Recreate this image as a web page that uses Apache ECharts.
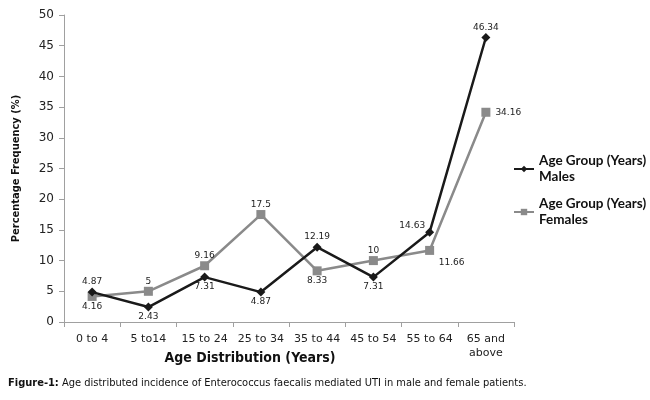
<!DOCTYPE html>
<html>
<head>
<meta charset="utf-8">
<script src="https://cdn.jsdelivr.net/npm/echarts@6/dist/echarts.min.js"></script>
<style>
  html, body { margin: 0; padding: 0; background: #fff; }
  #main { width: 650px; height: 400px; }
</style>
</head>
<body>
<div id="main"></div>
<script>
// chart data
var categories = ['0 to 4', '5 to14', '15 to 24', '25 to 34', '35 to 44', '45 to 54', '55 to 64', '65 and\nabove'];
var males = [4.87, 2.43, 7.31, 4.87, 12.19, 7.31, 14.63, 46.34];
var females = [4.16, 5, 9.16, 17.5, 8.33, 10, 11.66, 34.16];
var yTicks = [0, 5, 10, 15, 20, 25, 30, 35, 40, 45, 50];

// where each value label sits
var malePos = ['top', 'bottom', 'bottom', 'bottom', 'top', 'bottom', 'left', 'top'];
var femalePos = ['bottom', 'top', 'top', 'top', 'bottom', 'top', 'bottom', 'right'];

var tickFont = 'DejaVu Sans';
var narrowFont = "'DejaVu Sans Condensed', 'Liberation Sans', sans-serif";

function withLabels(values, pos, offsets) {
  return values.map(function (v, i) {
    var lab = { position: pos[i] };
    if (offsets && offsets[i]) lab.offset = offsets[i];
    return { value: v, label: lab };
  });
}

var chart = echarts.init(document.getElementById('main'));

var option = {
  animation: false,
  grid: { left: 64, right: 136, top: 15, bottom: 78 },
  title: {
    text: '{b|Figure-1:} Age distributed incidence of Enterococcus faecalis mediated UTI in male and female patients.',
    left: 3,
    top: 373,
    textStyle: {
      fontFamily: narrowFont,
      fontSize: 11,
      fontWeight: 'normal',
      color: '#111',
      rich: {
        b: { fontFamily: narrowFont, fontSize: 11, fontWeight: 'bold', color: '#111' }
      }
    }
  },
  legend: {
    orient: 'vertical',
    left: 508,
    top: 140,
    itemGap: -5,
    itemWidth: 20,
    itemHeight: 8,
    textStyle: { fontFamily: 'Lato', fontWeight: 'bold', fontSize: 13.5, color: '#111', lineHeight: 16, padding: [16, 0, 0, 0] },
    data: ['Age Group (Years)\nMales', 'Age Group (Years)\nFemales']
  },
  xAxis: {
    type: 'category',
    data: categories,
    name: 'Age Distribution (Years)',
    nameLocation: 'middle',
    nameGap: 29,
    nameMoveOverlap: false,
    nameTextStyle: { fontFamily: narrowFont, fontWeight: 'bold', fontSize: 14, color: '#111', padding: [0, 78, 0, 0] },
    axisLine: { lineStyle: { color: '#a0a0a0', width: 1 } },
    axisTick: { show: true, alignWithLabel: false, length: 5, lineStyle: { color: '#a0a0a0' } },
    axisLabel: { fontFamily: tickFont, fontSize: 11, color: '#222', margin: 10, interval: 0, lineHeight: 14 }
  },
  yAxis: {
    type: 'value',
    min: yTicks[0],
    max: yTicks[yTicks.length - 1],
    interval: 5,
    name: 'Percentage Frequency (%)',
    nameLocation: 'middle',
    nameGap: 42,
    nameMoveOverlap: false,
    nameTextStyle: { fontFamily: narrowFont, fontWeight: 'bold', fontSize: 11, color: '#111' },
    axisLine: { show: true, lineStyle: { color: '#a0a0a0', width: 1 } },
    axisTick: { show: true, length: 5, lineStyle: { color: '#a0a0a0' } },
    axisLabel: { fontFamily: tickFont, fontSize: 12, color: '#222', margin: 10 },
    splitLine: { show: false }
  },
  series: [
    {
      name: 'Age Group (Years)\nMales',
      type: 'line',
      data: withLabels(males, malePos, [null, null, null, null, null, null, [1, -7], null]),
      symbol: 'diamond',
      symbolSize: 9,
      color: '#1a1a1a',
      lineStyle: { width: 2.5, color: '#1a1a1a' },
      itemStyle: { color: '#1a1a1a' },
      label: { show: true, fontFamily: tickFont, fontSize: 9, color: '#222', distance: 1 },
      z: 3
    },
    {
      name: 'Age Group (Years)\nFemales',
      type: 'line',
      data: withLabels(females, femalePos, [null, null, null, null, null, null, [22, 2], [4, 0]]),
      symbol: 'rect',
      symbolSize: 9,
      color: '#8a8a8a',
      lineStyle: { width: 2.5, color: '#8a8a8a' },
      itemStyle: { color: '#8a8a8a' },
      label: { show: true, fontFamily: tickFont, fontSize: 9, color: '#222', distance: 1 },
      z: 2
    }
  ]
};

chart.setOption(option);
</script>
</body>
</html>
